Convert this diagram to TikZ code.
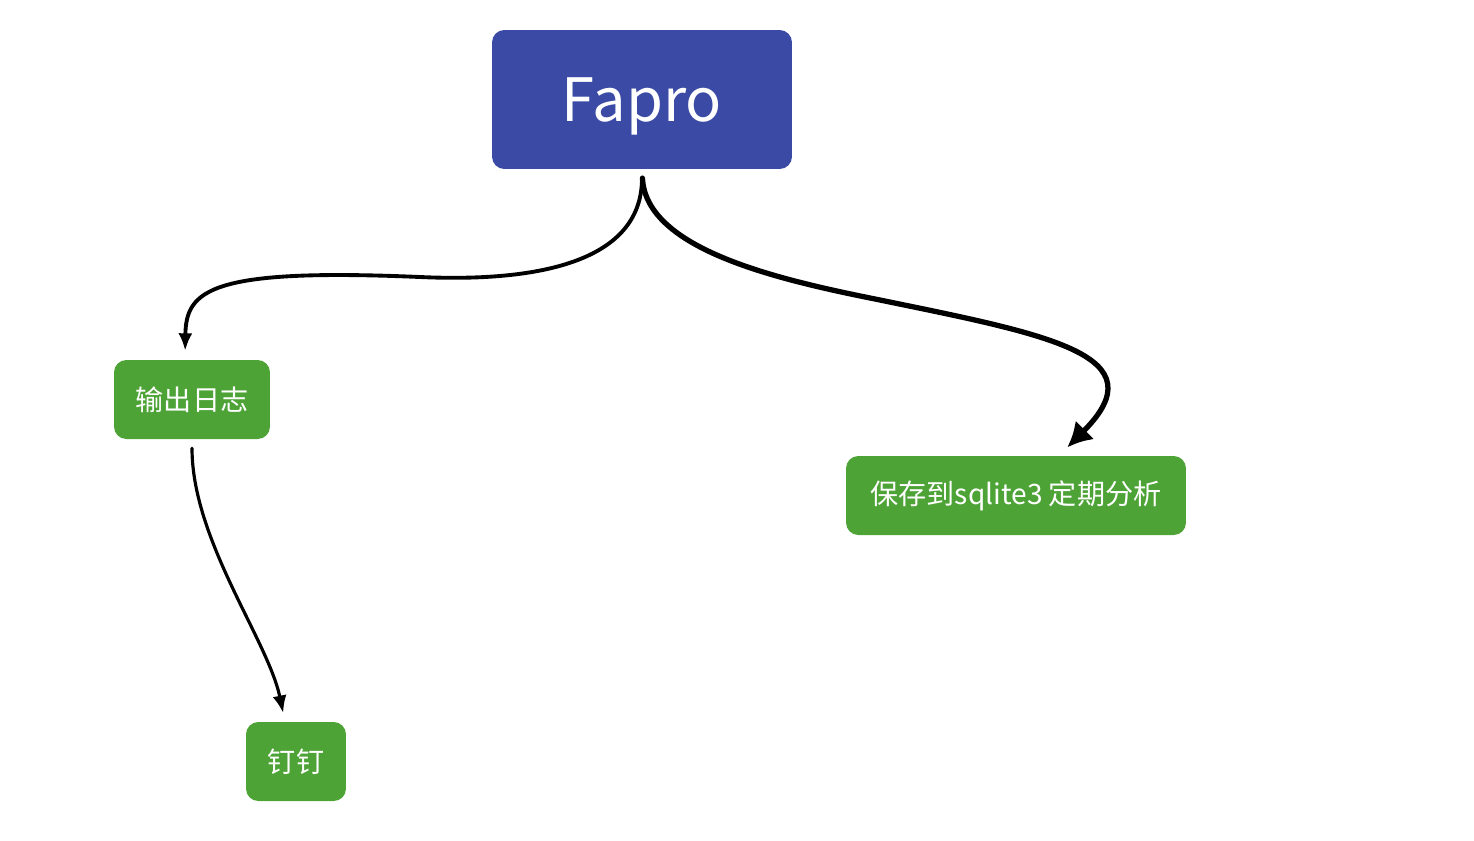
\documentclass[tikz,border=0pt]{standalone}
\usepackage{fontspec}
\setmainfont{Noto Sans CJK SC}
\usepackage[x11names, svgnames]{xcolor}
\usepackage{tikz}
\usetikzlibrary{arrows.meta, calc}

\definecolor{faproblue}{RGB}{59,75,165}
\definecolor{boxgreen}{RGB}{77,163,54}

\begin{document}
\begin{tikzpicture}[x=0.02cm, y=-0.02cm, line cap=round,
			mainbox/.style={fill=faproblue, text=white, rounded corners=7pt, minimum width=6cm, minimum height=2.78cm, text depth=0pt, font=\fontsize{34}{38}\selectfont},
			leafbox/.style={fill=boxgreen, text=white, rounded corners=7pt, minimum height=1.58cm, font=\fontsize{16}{18}\selectfont},
			link/.style={black, shorten <=5pt, shorten >=5pt}
		]

	\useasboundingbox (0,0) rectangle (1474,840);

	\node[mainbox] (fapro) at (642,99.5) {Fapro};
	\node[leafbox, minimum width=3.12cm] (log) at (192,399.5) {输出日志};
	\node[leafbox, minimum width=6.8cm] (sqlite) at (1016,495.5) {保存到sqlite3 定期分析};
	\node[leafbox, minimum width=2cm] (ding) at (296,761.5) {钉钉};

	\coordinate (L) at (420,277);
	\coordinate (R) at (880,300);

	\draw[link, line width=2.2pt, -{Latex[length=10pt, width=8pt]}] (fapro.south) .. controls (642,265) and (530,282) .. (L) .. controls (210,268) and (186,290) .. ($(log.north)+(-7,0)$);
	\draw[link, line width=3pt, -{Latex[length=14pt, width=15pt]}] (fapro.south) .. controls (646,250) and (780,280) .. (R) .. controls (1050,335) and (1160,355) .. ($(sqlite.north)+(45,-2)$);
	\draw[link, line width=1.8pt, -{Latex[length=10pt, width=8pt]}] (log.south) .. controls (192,540) and (268,640) .. ($(ding.north)+(-11,0)$);

\end{tikzpicture}
\end{document}
